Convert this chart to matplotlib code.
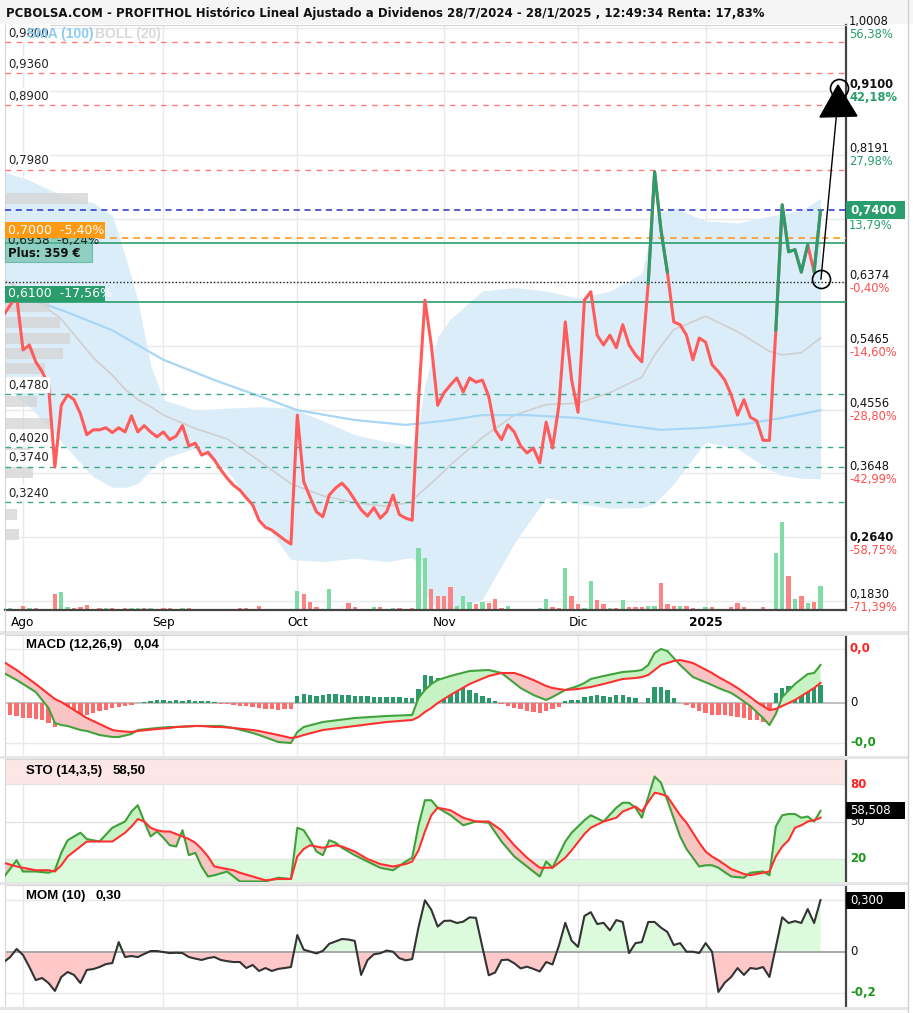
import numpy as np
import matplotlib
matplotlib.use("Agg")
import matplotlib.pyplot as plt
import matplotlib.transforms as mtrans
from matplotlib.patches import Rectangle, Polygon
from matplotlib.lines import Line2D

W, H, DPI = 913, 1013, 100

# ---------------- data ----------------
title = ("PCBOLSA.COM - PROFITHOL Histórico Lineal Ajustado a Dividenos "
         "28/7/2024 - 28/1/2025 , 12:49:34 Renta: 17,83%")
month_idx = [3, 25, 46, 69, 90, 110]
month_labels = ['Ago', 'Sep', 'Oct', 'Nov', 'Dic', '2025']

price = [0.591, 0.605, 0.618, 0.541, 0.548, 0.524, 0.510, 0.491, 0.374, 0.462,
         0.477, 0.470, 0.450, 0.420, 0.427, 0.427, 0.430, 0.423, 0.430, 0.424,
         0.447, 0.424, 0.433, 0.424, 0.417, 0.424, 0.413, 0.418, 0.433, 0.404,
         0.408, 0.391, 0.395, 0.384, 0.370, 0.358, 0.348, 0.341, 0.330, 0.320,
         0.298, 0.288, 0.284, 0.277, 0.270, 0.264, 0.448, 0.353, 0.331, 0.310,
         0.303, 0.334, 0.344, 0.351, 0.341, 0.327, 0.313, 0.304, 0.316, 0.301,
         0.310, 0.334, 0.306, 0.301, 0.298, 0.470, 0.612, 0.548, 0.462, 0.480,
         0.491, 0.501, 0.481, 0.501, 0.495, 0.498, 0.475, 0.427, 0.413, 0.434,
         0.424, 0.404, 0.394, 0.401, 0.380, 0.438, 0.401, 0.462, 0.581, 0.498,
         0.452, 0.612, 0.624, 0.562, 0.548, 0.562, 0.544, 0.577, 0.548, 0.534,
         0.524, 0.636, 0.795, 0.712, 0.652, 0.581, 0.577, 0.562, 0.527, 0.558,
         0.552, 0.520, 0.510, 0.498, 0.477, 0.448, 0.470, 0.445, 0.440, 0.412,
         0.412, 0.569, 0.748, 0.681, 0.684, 0.652, 0.691, 0.652, 0.740]
# segments (start index) drawn green
green_seg = [101, 102, 103, 121, 122, 123, 124, 125, 127]

volume = [0, 2, 0, 4, 2, 2, 0, 0, 16, 18,
          3, 2, 3, 5, 0, 2, 2, 2, 0, 2,
          2, 2, 2, 2, 0, 2, 2, 0, 2, 2,
          0, 0, 0, 0, 0, 0, 0, 2, 2, 0,
          4, 0, 0, 0, 0, 0, 19, 16, 8, 3,
          0, 21, 0, 0, 7, 3, 0, 0, 3, 3,
          0, 2, 2, 0, 2, 62, 52, 21, 14, 14,
          23, 4, 14, 8, 6, 8, 7, 11, 2, 4,
          0, 0, 0, 0, 2, 11, 3, 2, 42, 14,
          6, 2, 29, 10, 6, 2, 2, 10, 3, 3,
          3, 4, 4, 27, 6, 4, 4, 4, 2, 0,
          3, 3, 0, 0, 3, 7, 3, 0, 0, 3,
          0, 57, 88, 34, 11, 14, 7, 8, 24]
vol_dir = (".g.rgr..rg" "grrr.rgr.r" "ggrg.rr.gr" ".......rr." "r.....grrr"
           ".g..rr..gr" ".gr.rggrrr" "rgggrgrrrg" "....ggrrgr" "rggrrgrgrr"
           "rggrrrgrr." "gr..rrr..r" ".ggrgrgrg")

boll_idx = [0, 4, 9, 14, 17, 19, 21, 23, 25, 30, 35, 40, 45, 50, 55, 60, 64, 65,
            66, 68, 70, 75, 80, 85, 90, 95, 100, 102, 105, 110, 115, 120, 122,
            125, 128]
boll_up = [0.795, 0.783, 0.762, 0.751, 0.733, 0.676, 0.612, 0.520, 0.470, 0.455,
           0.458, 0.460, 0.458, 0.440, 0.420, 0.410, 0.405, 0.435, 0.493, 0.560,
           0.585, 0.625, 0.630, 0.625, 0.615, 0.625, 0.650, 0.734, 0.744, 0.725,
           0.722, 0.732, 0.735, 0.740, 0.757]
boll_mid = [0.641, 0.620, 0.585, 0.530, 0.505, 0.485, 0.470, 0.460, 0.448, 0.429,
            0.414, 0.383, 0.350, 0.333, 0.323, 0.318, 0.324, 0.335, 0.343, 0.359,
            0.377, 0.416, 0.448, 0.463, 0.465, 0.480, 0.502, 0.534, 0.570, 0.589,
            0.567, 0.539, 0.534, 0.537, 0.558]
boll_low = [0.490, 0.460, 0.410, 0.360, 0.345, 0.345, 0.350, 0.370, 0.386, 0.401,
            0.370, 0.304, 0.242, 0.239, 0.244, 0.239, 0.245, 0.235, 0.193, 0.169,
            0.170, 0.185, 0.265, 0.330, 0.322, 0.315, 0.316, 0.322, 0.350, 0.410,
            0.400, 0.370, 0.362, 0.358, 0.357]
sma_idx = [0, 9, 17, 25, 33, 41, 46, 55, 63, 70, 75, 82, 90, 97, 103, 110, 116,
           122, 128]
sma100 = [0.626, 0.598, 0.569, 0.527, 0.498, 0.472, 0.455, 0.441, 0.434, 0.441,
          0.448, 0.448, 0.444, 0.434, 0.427, 0.430, 0.435, 0.444, 0.455]

# volume-at-price profile (left side)
prof_price = [0.7563, 0.6036, 0.5808, 0.5580, 0.5366, 0.5152, 0.4681, 0.4367,
              0.4167, 0.3939, 0.3668, 0.3340, 0.3069, 0.2770]
prof_vol = [83, 45, 55, 65, 58, 40, 32, 45, 40, 25, 28, 18, 12, 14]

red_levels = [0.980, 0.936, 0.890, 0.798]
red_texts = ['0,9800', '0,9360', '0,8900', '0,7980']
green_levels = [0.478, 0.402, 0.374, 0.324]
green_texts = ['0,4780', '0,4020', '0,3740', '0,3240']
last_price = 0.740
stop_level = 0.700
entry_level = 0.6938
low_level = 0.610
ref_level = 0.6374

grid_levels = [1.0008, 0.9100, 0.8191, 0.7282, 0.6374, 0.5465, 0.4556, 0.3648,
               0.2739, 0.1830]
right_vals = [1.0008, 0.9100, 0.8191, 0.7400, 0.6374, 0.5465, 0.4556, 0.3648,
              0.2640, 0.1830]
right_txt = ['1,0008', '0,9100', '0,8191', '0,7400', '0,6374', '0,5465', '0,4556',
             '0,3648', '0,2640', '0,1830']
right_pct = ['56,38%', '42,18%', '27,98%', '13,79%', '-0,40%', '-14,60%',
             '-28,80%', '-42,99%', '-58,75%', '-71,39%']

macd_idx = [0, 2, 5, 7, 8, 9, 10, 12, 13, 15, 17, 18, 20, 21, 24, 26, 27, 30, 31,
            33, 34, 36, 39, 40, 43, 45, 46, 47, 50, 55, 60, 64, 65, 66, 67, 68,
            70, 73, 76, 78, 80, 81, 83, 85, 86, 88, 90, 91, 92, 94, 97, 99, 100,
            101, 102, 103, 104, 105, 106, 108, 111, 112, 114, 115, 117, 118, 119,
            120, 121, 122, 124, 126, 127, 128]
macd_line = [.030, .023, .011, -.005, -.020, -.022, -.023, -.027, -.028, -.032,
             -.034, -.034, -.031, -.027, -.025, -.024, -.024, -.023, -.023, -.023,
             -.023, -.025, -.030, -.032, -.039, -.040, -.029, -.024, -.019, -.015,
             -.013, -.012, .005, .013, .019, .023, .027, .032, .033, .030, .020,
             .015, .008, .003, .006, .013, .017, .020, .024, .027, .031, .032,
             .033, .038, .050, .054, .052, .045, .038, .026, .018, .015, .010,
             .006, -.003, -.009, -.015, -.022, -.011, .006, .019, .029, .030, .038]
macd_signal = [.041, .033, .019, .009, .004, .001, -.003, -.011, -.015, -.021,
               -.027, -.028, -.029, -.028, -.026, -.025, -.024, -.023, -.023, -.024,
               -.024, -.025, -.027, -.028, -.032, -.035, -.034, -.032, -.027, -.023,
               -.019, -.017, -.014, -.009, -.005, .000, .008, .019, .027, .030,
               .030, .028, .023, .017, .015, .013, .014, .015, .016, .019, .024,
               .025, .026, .028, .033, .038, .040, .042, .043, .040, .030, .026,
               .019, .015, .006, .001, -.003, -.007, -.006, -.003, .003, .011,
               .015, .020]
macd_hist = [-12, -12, -13, -15, -15, -16, -17, -20, -24, -22,
             -19, -17, -14, -12, -10, -8, -7, -5, -4, -3,
             -2, 0, 1, 2, 3, 3, 2, 3, 2, 3,
             2, 2, 2, 1, -1, -1, -2, -3, -3, -4,
             -5, -6, -6, -7, -6, -6, 7, 9, 8, 7,
             8, 9, 9, 8, 8, 7, 7, 7, 6, 6,
             6, 6, 6, 5, 5, 14, 28, 27, 25, 22,
             20, 17, 15, 13, 10, 7, 5, 2, -1, -3,
             -5, -6, -8, -9, -10, -8, -6, -4, 2, 3,
             3, 6, 7, 8, 7, 6, 8, 8, 6, 5,
             0, 5, 16, 16, 13, 5, 0, -2, -5, -8,
             -10, -12, -12, -12, -13, -14, -15, -17, -17, -19,
             -20, 10, 15, 17, 18, 18, 17, 18, 18]   # x 0.001

sto_idx = [0, 2, 3, 5, 7, 8, 9, 10, 12, 13, 15, 17, 19, 20, 21, 22, 23, 24, 25,
           26, 27, 28, 29, 30, 31, 32, 33, 35, 36, 37, 39, 41, 43, 45, 46, 47,
           48, 49, 50, 51, 52, 53, 55, 57, 59, 61, 63, 64, 65, 66, 67, 68, 70,
           72, 74, 76, 78, 80, 82, 84, 85, 86, 88, 89, 91, 92, 94, 96, 97, 98,
           99, 100, 102, 103, 104, 106, 107, 109, 110, 111, 112, 114, 116, 117,
           119, 120, 121, 122, 123, 124, 125, 126, 127, 128]
sto_k = [5.6, 19, 10, 10, 9, 11, 25, 35, 41, 36, 34, 45, 50, 58, 63, 50, 38, 42,
         37, 31, 30, 43, 23, 25, 14, 6, 7, 10, 6, 2, 2, 2, 5, 4, 45, 43, 35, 26,
         23, 35, 33, 29, 23, 18, 13, 11, 18, 21, 47, 67, 67, 61, 55, 47, 50, 49,
         34, 22, 14, 6, 18, 13, 34, 41, 51, 55, 50, 61, 65, 65, 61, 53, 86, 81,
         67, 38, 28, 14, 15, 15, 13, 6, 5, 9, 10, 7, 46, 55, 56, 56, 53, 54, 50,
         58.5]
sto_d = [17, 14, 13, 11, 11, 10, 15, 22, 30, 34, 34, 34, 41, 46, 52, 50, 45, 43,
         42, 42, 40, 38, 36, 33, 28, 22, 14, 12, 11, 9, 6, 3, 4, 4, 22, 28, 31,
         30, 29, 30, 31, 30, 26, 20, 16, 14, 16, 18, 27, 42, 55, 61, 59, 53, 50,
         50, 43, 31, 21, 13, 13, 13, 21, 27, 40, 45, 50, 53, 58, 60, 62, 58, 73,
         72, 70, 55, 49, 33, 26, 22, 19, 12, 8, 7, 9, 10, 22, 30, 35, 45, 47, 50,
         51, 53]

mom = [-.060, -.031, .016, -.019, -.089, -.165, -.153, -.182, -.228, -.147,
       -.118, -.135, -.182, -.106, -.101, -.089, -.072, -.066, .056, -.031,
       -.025, -.031, -.013, .004, .004, -.002, -.008, -.006, -.008, -.031,
       -.040, -.048, -.037, -.031, -.048, -.055, -.060, -.060, -.095, -.077,
       -.112, -.095, -.112, -.100, -.095, -.089, .097, .012, .001, -.010,
       .005, .046, .060, .074, .071, .063, -.135, -.049, -.015, -.009,
       .007, .000, -.038, -.050, -.043, .143, .299, .244, .146, .179,
       .181, .167, .175, .200, .197, .028, -.137, -.121, -.049, -.046,
       -.067, -.097, -.087, -.100, -.115, -.060, -.074, .035, .168, .064,
       .028, .208, .230, .161, .168, .124, .184, .173, -.008, .050,
       .056, .173, .173, .140, .115, .039, .050, .000, .000, -.008,
       .050, .000, -.234, -.180, -.147, -.095, -.135, -.095, -.100, -.089,
       -.147, .027, .200, .167, .178, .167, .248, .167, .300]

# ---------------- figure ----------------
plt.rcParams['font.family'] = ['DejaVu Sans']
fig = plt.figure(figsize=(W / DPI, H / DPI), dpi=DPI)
ID = mtrans.IdentityTransform()


def rect(x0, y0, x1, y1):
    return [x0 / W, 1 - y1 / H, (x1 - x0) / W, (y1 - y0) / H]


def ydisp(a, v):
    return a.transData.transform((0, v))[1]


def ftext(x, y, s, **kw):
    kw.setdefault('zorder', 5)
    return fig.text(x, y, s, transform=ID, **kw)


def fbox(x0, y0, w, h, **kw):
    kw.setdefault('zorder', 2.5)
    r = Rectangle((x0, y0), w, h, transform=ID, **kw)
    fig.add_artist(r)
    return r


XL = (0.18, 132.0)
N = len(price)
xs = np.arange(N)
GRID = '#e9e9e9'
GREEN = '#2a9d6c'
RED = '#ff5b5b'

# title band
fbox(0, H - 24, W, 24, fc='#f5f5f5', ec='none', zorder=0)
ftext(6, H - 13, title, fontsize=8.5, fontweight='bold', family='DejaVu Sans',
      va='center', ha='left', color='#111111')


def style_axes(a):
    a.set_xlim(*XL)
    for s in ['left', 'top', 'bottom']:
        a.spines[s].set_color('#d5d5d5')
    a.spines['right'].set_color('#444444')
    a.spines['right'].set_linewidth(1.6)
    a.set_yticks([])
    for m in month_idx:
        a.axvline(m, color=GRID, lw=1, zorder=0)


# ---------------- main panel ----------------
ax = fig.add_axes(rect(5, 25, 846, 610))
style_axes(ax)
ax.set_ylim(0.170, 1.0045)
ax.spines['bottom'].set_color('#444444')
ax.spines['bottom'].set_linewidth(1.6)
for g in grid_levels:
    ax.axhline(g, color=GRID, lw=1, zorder=0)

ax.fill_between(boll_idx, boll_low, boll_up, color='#dcedfa', lw=0, zorder=1)
ax.plot(boll_idx, boll_mid, color='#cfcfcf', lw=1.2, zorder=2)
ax.plot(sma_idx, sma100, color='#a8d7f6', lw=1.6, zorder=2)

axv = ax.inset_axes([0, 0, 1, 1])
axv.set_xlim(*XL)
axv.set_ylim(0, 585)
axv.axis('off')
axv.patch.set_alpha(0)
axv.set_zorder(1.5)
vcol = ['#7fdca5' if c == 'g' else '#fb8585' for c in vol_dir]
axv.bar(xs, volume, width=0.68, color=vcol, lw=0)

px_per_idx = 6.38
ax.barh(prof_price, np.array(prof_vol) / px_per_idx, height=0.0157, left=XL[0],
        color='#d4d4d4', alpha=0.75, lw=0, zorder=3)

for lv in red_levels:
    ax.axhline(lv, color='#ff7b7b', lw=1.0, ls=(0, (4, 4)), zorder=4)
for lv in green_levels:
    ax.axhline(lv, color='#3aa984', lw=1.0, ls=(0, (4, 4)), zorder=4)
ax.axhline(last_price, color='#2430c8', lw=1.1, ls=(0, (4, 3)), zorder=4)
ax.axhline(stop_level, color='#ff9a1a', lw=1.2, ls=(0, (4, 3)), zorder=4)
ax.axhline(entry_level, color=GREEN, lw=1.2, zorder=4)
ax.axhline(low_level, color=GREEN, lw=1.2, zorder=4)
ax.axhline(ref_level, color='#222222', lw=1.0, ls=(0, (1, 1.5)), zorder=4)

# price line
ax.plot(xs, price, color=RED, lw=2.2, zorder=5, solid_joinstyle='round',
        solid_capstyle='round')
runs = []
for s in green_seg:
    if runs and runs[-1][1] == s:
        runs[-1][1] = s + 1
    else:
        runs.append([s, s + 1])
for a0, a1 in runs:
    ax.plot(xs[a0:a1 + 1], price[a0:a1 + 1], color=GREEN, lw=2.2, zorder=6,
            solid_joinstyle='round', solid_capstyle='round')

# projection arrow
c1 = (128.08, 0.6421)
c2 = (130.9, 0.9146)
ax.plot([c1[0], c2[0]], [c1[1], c2[1]], color='black', lw=1.0, zorder=7,
        clip_on=False)
ax.add_patch(Polygon([(127.92, 0.8732), (133.72, 0.8747), (130.74, 0.9189)],
                     closed=True, fc='black', ec='black', zorder=8,
                     clip_on=False))
for c in (c1, c2):
    ax.plot(*c, marker='o', ms=13, mfc='none', mec='black', mew=1.2, zorder=9,
            clip_on=False)

ax.set_xticks(month_idx)
ax.set_xticklabels(month_labels)
ax.tick_params(axis='x', length=0, pad=4, labelsize=8.7)
for t in ax.get_xticklabels():
    if t.get_text() == '2025':
        t.set_fontweight('bold')

# level labels at left
for lv, s in zip(red_levels + green_levels, red_texts + green_texts):
    ftext(8, ydisp(ax, lv) + 9, s, fontsize=8.4, va='center', ha='left',
          color='#222222', bbox=dict(fc='white', ec='none', pad=1.2), zorder=4)
ytop = ydisp(ax, red_levels[0]) + 8
ftext(27, ytop, 'SMA (100)', fontsize=10, fontweight='bold', color='#8dcdf3',
      va='center', ha='left', family='Liberation Sans', zorder=6)
ftext(95, ytop, 'BOLL (20)', fontsize=10, fontweight='bold', color='#d9d9d9',
      va='center', ha='left', family='Liberation Sans', zorder=6)

# position boxes at left
ye = ydisp(ax, entry_level)
fbox(5, ye - 19, 87, 27, fc='#5dbb9c', ec='#3aa984', lw=0.8, alpha=0.6,
     zorder=2.4)
ftext(8, ye + 2, '0,6938  -6,24%', fontsize=8.6, color='#222222', va='center',
      ha='left', zorder=4.5)
ftext(8, ye - 11, 'Plus: 359 €', fontsize=8.4, color='#111111', va='center',
      ha='left', fontweight='bold', zorder=4.5)
ys = ydisp(ax, stop_level)
fbox(5, ys, 100, 16, fc='#ff9a14', ec='none', zorder=4.8)
ftext(8, ys + 8, '0,7000  -5,40%', fontsize=9.0, color='white', va='center',
      ha='left', zorder=5)
yl = ydisp(ax, low_level)
fbox(5, yl, 100, 16, fc=GREEN, ec='none', zorder=4.8)
ftext(8, yl + 8, '0,6100  -17,56%', fontsize=9.0, color='white', va='center',
      ha='left', zorder=5)

# right axis labels (main)
for v, s, pc in zip(right_vals, right_txt, right_pct):
    y = ydisp(ax, v)
    pcol = '#2a9d6c' if not pc.startswith('-') else '#ff4d4d'
    if s == '0,7400':
        fbox(846, y - 9, 59, 18, fc=GREEN, ec='none')
        ftext(850, y, s, fontsize=8.6, color='white', fontweight='bold',
              va='center', ha='left')
        ftext(849, y - 15, pc, fontsize=8.3, color=pcol, va='center', ha='left')
        continue
    bold = 'bold' if s in ('0,9100', '0,2640') else 'normal'
    ftext(849, y + 6.5, s, fontsize=8.3, color='#111111', fontweight=bold,
          va='center', ha='left')
    ftext(849, y - 6.5, pc, fontsize=8.3, color=pcol,
          fontweight='bold' if s == '0,9100' else 'normal',
          va='center', ha='left')

# ---------------- MACD panel ----------------
axm = fig.add_axes(rect(5, 635, 846, 757))
style_axes(axm)
axm.set_xticks([])
axm.set_ylim(-0.054, 0.068)
for g in (0.054, -0.040):
    axm.axhline(g, color=GRID, lw=1, zorder=0)
axm.axhline(0, color='#b5b5b5', lw=1.2, zorder=1)
hv = np.array(macd_hist) / 1000.0
axm.bar(xs, hv, width=0.68, color=np.where(hv >= 0, '#2a9a6a', '#ff6b6b'),
        lw=0, zorder=2)
mi = np.array(macd_idx)
ml = np.array(macd_line)
msg = np.array(macd_signal)
axm.fill_between(mi, ml, msg, where=ml >= msg, interpolate=True,
                 color='#c7f3c4', lw=0, zorder=3)
axm.fill_between(mi, ml, msg, where=ml < msg, interpolate=True,
                 color='#f9c4c4', lw=0, zorder=3)
axm.plot(mi, ml, color='#42a23c', lw=1.5, zorder=4)
axm.plot(mi, msg, color='#ff3030', lw=1.5, zorder=4)
ftext(26, H - 645, 'MACD (12,26,9)', fontsize=9.5, fontweight='bold',
      family='Liberation Sans', va='center', ha='left')
ftext(133, H - 645, '0,04', fontsize=9.5, fontweight='bold',
      family='Liberation Sans', va='center', ha='left')
for v, s, c in [(0.054, '0,0', '#ff2020'), (0, '0', '#111111'),
                (-0.040, '-0,0', '#1a961a')]:
    ftext(850, ydisp(axm, v), s, fontsize=8.5, color=c, va='center', ha='left',
          fontweight='normal' if s == '0' else 'bold')

# ---------------- STO panel ----------------
axs = fig.add_axes(rect(5, 759, 846, 884))
style_axes(axs)
axs.set_xticks([])
axs.set_ylim(0, 100)
axs.axhspan(80, 100, color='#fde6e6', lw=0, zorder=0)
axs.axhspan(0, 20, color='#dcfadc', lw=0, zorder=0)
for g in (80, 50, 20):
    axs.axhline(g, color='#e4e4e4', lw=1, zorder=0.5)
si = np.array(sto_idx)
sk = np.array(sto_k)
sd = np.array(sto_d)
axs.fill_between(si, sk, sd, where=sk >= sd, interpolate=True,
                 color='#c6f3c3', lw=0, zorder=2)
axs.fill_between(si, sk, sd, where=sk < sd, interpolate=True,
                 color='#f5c6c2', lw=0, zorder=2)
axs.plot(si, sk, color='#3f9f39', lw=1.5, zorder=3)
axs.plot(si, sd, color='#ff3030', lw=1.5, zorder=3)
ftext(26, H - 771, 'STO (14,3,5)', fontsize=9.5, fontweight='bold',
      family='Liberation Sans', va='center', ha='left')
ftext(113, H - 771, '58,50', fontsize=9.5, fontweight='bold',
      family='Liberation Sans', va='center', ha='left')
for v, s, c in [(80, '80', '#ff2020'), (50, '50', '#111111'),
                (20, '20', '#1a961a')]:
    ftext(850, ydisp(axs, v), s, fontsize=8.5, color=c, va='center', ha='left',
          fontweight='normal' if s == '50' else 'bold', zorder=4)
yk = ydisp(axs, sto_k[-1])
fbox(846, yk - 8.5, 59, 17, fc='black', ec='none', zorder=4.5)
ftext(850, yk, '58,508', fontsize=8.5, color='white', va='center', ha='left')

# ---------------- MOM panel ----------------
axo = fig.add_axes(rect(5, 885, 846, 1007))
style_axes(axo)
axo.set_xticks([])
axo.set_ylim(-0.3215, 0.388)
for g in (0.30, -0.24):
    axo.axhline(g, color=GRID, lw=1, zorder=0)
mv = np.array(mom)
axo.fill_between(xs, 0, mv, where=mv >= 0, interpolate=True, color='#dcfadc',
                 lw=0, zorder=1)
axo.fill_between(xs, 0, mv, where=mv < 0, interpolate=True, color='#ffc8c8',
                 lw=0, zorder=1)
axo.axhline(0, color='#a8a8a8', lw=1.4, zorder=2)
axo.plot(xs, mv, color='#333333', lw=1.5, zorder=3)
ftext(26, H - 896, 'MOM (10)', fontsize=9.5, fontweight='bold',
      family='Liberation Sans', va='center', ha='left')
ftext(96, H - 896, '0,30', fontsize=9.5, fontweight='bold',
      family='Liberation Sans', va='center', ha='left')
ftext(850, ydisp(axo, 0), '0', fontsize=8.5, color='#111111', va='center',
      ha='left')
ftext(850, ydisp(axo, -0.24), '-0,2', fontsize=8.5, color='#1a961a',
      va='center', ha='left', fontweight='bold')
ym = ydisp(axo, mom[-1])
fbox(846, ym - 8.5, 59, 17, fc='black', ec='none')
ftext(850, ym, '0,300', fontsize=8.5, color='white', va='center', ha='left')

# separators and frame
for y0, y1 in [(631, 635), (756, 759), (882, 885), (1007, 1010)]:
    fbox(0, H - y1, 908, y1 - y0, fc='#e6e6e6', ec='none', zorder=0.2)
fig.add_artist(Line2D([908, 908], [0, H], transform=ID, color='#d0d0d0', lw=1))
fig.add_artist(Line2D([5, 5], [H - 633, H - 610], transform=ID,
                      color='#d5d5d5', lw=1))

fig.savefig('out.png', dpi=DPI)
